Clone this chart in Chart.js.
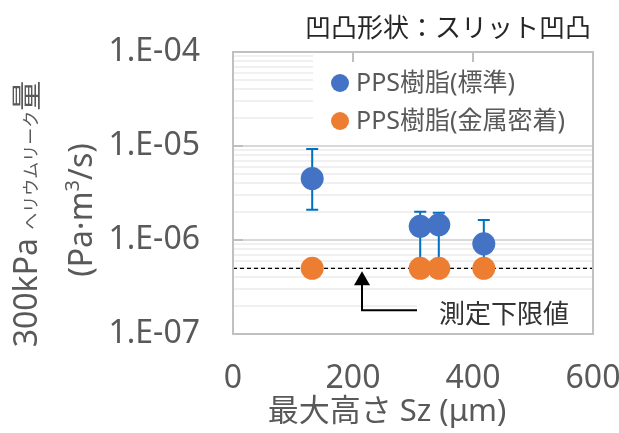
<!DOCTYPE html>
<html><head>
<meta charset="UTF-8">
<title>凹凸形状：スリット凹凸</title>
<script src="https://cdn.jsdelivr.net/npm/chart.js"></script>
<style>
  body { margin: 0; background: #fff; }
  #wrap { width: 619px; height: 433px; position: relative; }
</style>
</head><body>
<div id="wrap"><canvas id="leak"></canvas></div>
<script>
// values
const szValues = [132, 312, 343, 418];
const leakStandard = [4.5e-6, 1.4e-6, 1.45e-6, 9.1e-7];
const errUpper = [9.3e-6, 2.0e-6, 1.95e-6, 1.63e-6];
const errLower = [2.1e-6, 5e-7, 5e-7, 5e-7];
const leakMetal = [5e-7, 5e-7, 5e-7, 5e-7];
const detectionLimit = 5e-7;
const xTicks = [0, 200, 400, 600];
const yTicks = [1e-7, 1e-6, 1e-5, 1e-4];
const yTickLabels = ['1.E-07', '1.E-06', '1.E-05', '1.E-04'];
const seriesNames = ['PPS樹脂(標準)', 'PPS樹脂(金属密着)'];
const seriesColors = ['#4472C4', '#ED7D31'];

const FONT = "'Noto Sans', 'Noto Sans CJK JP', sans-serif";
const GREY = '#595959';
Chart.defaults.font.family = FONT;
Chart.defaults.color = GREY;

// minor gridlines 2..9 in every decade
const allYTicks = [];
yTicks.forEach((v, i) => {
  allYTicks.push({ value: v, major: true });
  if (i < yTicks.length - 1) {
    for (let m = 2; m <= 9; m++) allYTicks.push({ value: m * v, major: false });
  }
});

function font(size) { return size + 'px ' + FONT; }

const decor = {
  id: 'decor',
  beforeDatasetsDraw(chart) {
    const { ctx, scales: { x, y } } = chart;
    ctx.save();
    ctx.strokeStyle = '#0070C0';
    ctx.lineWidth = 2;
    szValues.forEach((v, i) => {
      const px = x.getPixelForValue(v);
      const top = y.getPixelForValue(errUpper[i]);
      const bot = y.getPixelForValue(errLower[i]);
      ctx.beginPath();
      ctx.moveTo(px, top); ctx.lineTo(px, bot);
      ctx.moveTo(px - 6, top); ctx.lineTo(px + 6, top);
      ctx.moveTo(px - 6, bot); ctx.lineTo(px + 6, bot);
      ctx.stroke();
    });
    ctx.restore();
  },
  afterDatasetsDraw(chart) {
    const { ctx, chartArea: a, scales: { x, y } } = chart;
    ctx.save();

    // legend inside the plot
    ctx.fillStyle = '#fff';
    ctx.fillRect(a.left + 80, a.top + 1, a.right - a.left - 81, 87);
    ctx.font = font(25);
    ctx.textBaseline = 'middle';
    ctx.textAlign = 'left';
    seriesNames.forEach((name, i) => {
      const cy = a.top + 31 + i * 38;
      ctx.fillStyle = seriesColors[i];
      ctx.beginPath();
      ctx.arc(a.left + 107, cy, 9, 0, Math.PI * 2);
      ctx.fill();
      ctx.fillStyle = GREY;
      ctx.fillText(name, a.left + 123, cy + 1);
    });

    // detection limit label + arrow
    const tipX = x.getPixelForValue(215);
    const tipY = y.getPixelForValue(detectionLimit) + 3;
    const boxL = a.right - 176;
    ctx.fillStyle = '#fff';
    ctx.fillRect(boxL, tipY + 24, a.right - 1 - boxL, a.bottom - 1 - (tipY + 24));
    ctx.fillStyle = '#333';
    ctx.font = font(26);
    ctx.textAlign = 'center';
    ctx.fillText('測定下限値', boxL + 87, tipY + 44);
    ctx.strokeStyle = '#000';
    ctx.lineWidth = 2;
    ctx.beginPath();
    ctx.moveTo(boxL, tipY + 39);
    ctx.lineTo(tipX, tipY + 39);
    ctx.lineTo(tipX, tipY + 12);
    ctx.stroke();
    ctx.fillStyle = '#000';
    ctx.beginPath();
    ctx.moveTo(tipX, tipY);
    ctx.lineTo(tipX - 8, tipY + 14);
    ctx.lineTo(tipX + 8, tipY + 14);
    ctx.closePath();
    ctx.fill();

    // short inward tick marks
    ctx.strokeStyle = '#bfbfbf';
    ctx.lineWidth = 2;
    ctx.beginPath();
    xTicks.forEach(v => {
      const px = Math.round(x.getPixelForValue(v));
      ctx.moveTo(px, a.top); ctx.lineTo(px, a.top + 10);
    });
    yTicks.forEach(v => {
      const py = Math.round(y.getPixelForValue(v));
      ctx.moveTo(a.left, py); ctx.lineTo(a.left + 10, py);
    });
    ctx.stroke();

    // plot border
    ctx.strokeStyle = '#c0c0c0';
    ctx.lineWidth = 2;
    ctx.strokeRect(a.left, a.top, a.right - a.left, a.bottom - a.top);
    ctx.restore();
  },
  afterDraw(chart) {
    const { ctx } = chart;
    ctx.save();
    // chart title, top right
    ctx.fillStyle = '#262626';
    ctx.font = font(26);
    ctx.textAlign = 'right';
    ctx.textBaseline = 'middle';
    ctx.fillText('凹凸形状：スリット凹凸', 591, 30);

    // x-axis title (sits left of plot centre in the original)
    ctx.fillStyle = GREY;
    ctx.font = font(31);
    ctx.textAlign = 'center';
    ctx.fillText('最大高さ Sz (μm)', 387, 412);

    // y-axis title, two rotated lines with mixed sizes
    ctx.textAlign = 'left';
    ctx.textBaseline = 'alphabetic';
    const drawRun = (parts, bx, cy) => {
      let total = 0;
      parts.forEach(p => { ctx.font = font(p[1]); total += ctx.measureText(p[0]).width; });
      ctx.save();
      ctx.translate(bx, cy);
      ctx.rotate(-Math.PI / 2);
      let cx = -total / 2;
      parts.forEach(p => {
        ctx.font = font(p[1]);
        ctx.fillText(p[0], cx, p[2] || 0);
        cx += ctx.measureText(p[0]).width;
      });
      ctx.restore();
    };
    drawRun([['300kPa ', 32], ['ヘリウムリーク', 17], ['量', 30]], 37, 214);
    drawRun([['(Pa·m', 32], ['3', 20, -13], ['/s)', 32]], 92, 210);
    ctx.restore();
  }
};

new Chart(document.getElementById('leak'), {
  type: 'scatter',
  data: {
    datasets: [
      {
        label: seriesNames[0],
        data: szValues.map((v, i) => ({ x: v, y: leakStandard[i] })),
        backgroundColor: seriesColors[0],
        borderWidth: 0,
        pointRadius: 11.5,
        order: 1
      },
      {
        label: seriesNames[1],
        data: szValues.map((v, i) => ({ x: v, y: leakMetal[i] })),
        backgroundColor: seriesColors[1],
        borderWidth: 0,
        pointRadius: 11.5,
        order: 2
      },
      {
        type: 'line',
        label: '測定下限値',
        data: [{ x: xTicks[0], y: detectionLimit }, { x: xTicks[xTicks.length - 1], y: detectionLimit }],
        borderColor: '#000',
        borderWidth: 1.3,
        borderDash: [4, 3],
        pointRadius: 0,
        fill: false,
        order: 3
      }
    ]
  },
  options: {
    responsive: true,
    maintainAspectRatio: false,
    animation: false,
    layout: { padding: { left: 108, right: 26, top: 52, bottom: 0 } },
    plugins: { legend: { display: false }, tooltip: { enabled: false } },
    scales: {
      x: {
        type: 'linear',
        min: xTicks[0],
        max: xTicks[xTicks.length - 1],
        afterBuildTicks: s => { s.ticks = xTicks.map(v => ({ value: v })); },
        afterFit: s => { s.height = 99; s.paddingLeft = 0; s.paddingRight = 0; },
        grid: { display: false },
        border: { display: false },
        ticks: { font: { size: 32 }, color: GREY, padding: 18, maxRotation: 0 }
      },
      y: {
        type: 'logarithmic',
        min: yTicks[0],
        max: yTicks[yTicks.length - 1],
        afterBuildTicks: s => { s.ticks = allYTicks.map(t => ({ value: t.value, major: t.major })); },
        afterFit: s => { s.width = 125; s.paddingTop = 0; s.paddingBottom = 0; },
        border: { display: false },
        grid: {
          drawTicks: false,
          lineWidth: 2,
          color: c => (c.tick && c.tick.major) ? '#d9d9d9' : '#f0f0f0'
        },
        ticks: {
          autoSkip: false,
          font: { size: 32 },
          color: GREY,
          padding: 33,
          callback: (v) => {
            const k = yTicks.findIndex(t => Math.abs(t - v) / t < 1e-6);
            return k >= 0 ? yTickLabels[k] : '';
          }
        }
      }
    }
  },
  plugins: [decor]
});
</script>
</body></html>
